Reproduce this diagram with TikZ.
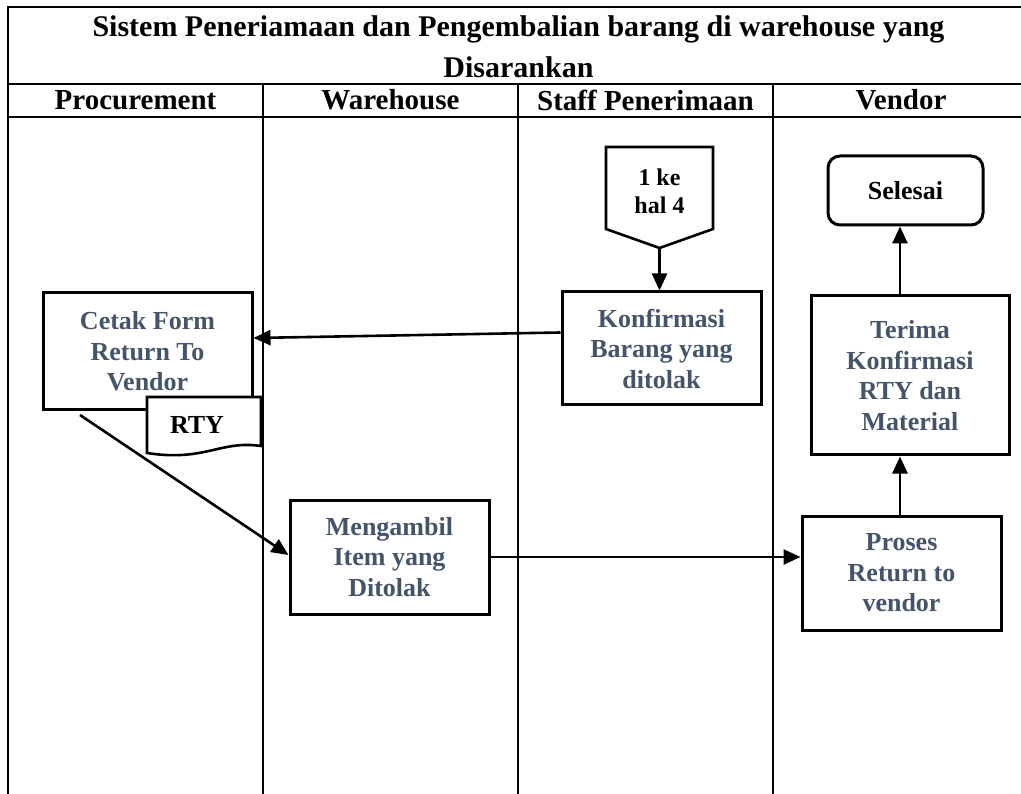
\documentclass[tikz,border=0pt]{standalone}
\usepackage{fontspec}
\setmainfont{Liberation Serif}
\usetikzlibrary{arrows.meta}
\definecolor{boxtext}{RGB}{68,84,106}
\begin{document}
\begin{tikzpicture}[x=1pt,y=-1pt,
  grid/.style={line width=2pt},
  procbox/.style={draw,line width=3pt,fill=white,inner sep=0pt,align=center,
    text=boxtext,font=\bfseries\fontsize{26}{30.5}\selectfont},
  plain/.style={align=center,font=\bfseries\fontsize{26}{30}\selectfont},
  head/.style={align=center,font=\bfseries\fontsize{29}{34}\selectfont},
  arr/.style={line width=2.6pt,-{Triangle[length=17pt,width=15pt]}},
  line/.style={line width=2.6pt}]
\useasboundingbox (0,0) rectangle (1021,794);
\fill[white] (0,0) rectangle (1021,794);

% swimlane table
\draw[grid] (8,794) -- (8,7) -- (1030,7);
\draw[grid] (8,84) -- (1030,84);
\draw[grid] (8,117) -- (1030,117);
\foreach \x in {263,518,773} \draw[grid] (\x,84) -- (\x,794);

\node[head,font=\bfseries\fontsize{30}{41}\selectfont] (title) at (518.5,47)
  {Sistem Peneriamaan dan Pengembalian barang di warehouse yang\\Disarankan};
\node[head] (hproc) at (135.5,100) {Procurement};
\node[head] (hware) at (390.5,100) {Warehouse};
\node[head] (hstaff) at (645.5,100) {Staff Penerimaan};
\node[head] (hvend) at (901,100) {Vendor};

% process boxes
\node[procbox,minimum width=209pt,minimum height=117pt] (cetak) at (147.5,351.5)
  {Cetak Form\\Return To\\Vendor};
\node[procbox,minimum width=199pt,minimum height=113pt] (konf) at (661.5,348.5)
  {Konfirmasi\\Barang yang\\ditolak};
\node[procbox,minimum width=199pt,minimum height=114pt] (ambil) at (389.5,557)
  {Mengambil\\Item yang\\Ditolak};
\node[procbox,minimum width=199pt,minimum height=114pt] (proses) at (901.5,573)
  {Proses\\Return to\\vendor};
\node[procbox,minimum width=198pt,minimum height=159pt] (terima) at (910,375.5)
  {Terima\\Konfirmasi\\RTY dan\\Material};
\node[draw,line width=3pt,rounded corners=12pt,minimum width=155pt,minimum height=69pt,
  plain] (selesai) at (905.5,190.5) {Selesai};

% RTY document
\draw[line width=2.6pt,fill=white] (147,397) -- (261,397) -- (261,446)
  .. controls (220,440) and (205,462) .. (147,453) -- cycle;
\node[plain] (rty) at (197,425) {RTY};

% off-page connector
\draw[line width=2.6pt] (606,147) -- (713,147) -- (713,229) -- (659.5,248) -- (606,229) -- cycle;
\node[plain,font=\bfseries\fontsize{24}{28}\selectfont] (offpage) at (659.5,191) {1 ke\\hal 4};
\coordinate (offtip) at (659.5,248);
\coordinate (cetakout) at (80,415);

% flow
\draw[arr] (offtip) -- (offtip |- konf.north);
\draw[arr] ([yshift=16pt]konf.west) -- ([yshift=13.5pt]cetak.east);
\draw[arr] (cetakout) -- ([yshift=2pt]ambil.west);
\draw[arr] (ambil.east) -- (ambil.east -| proses.west);
\draw[arr] ([xshift=-1.5pt]proses.north) -- ([xshift=-1.5pt]proses.north |- terima.south);
\draw[arr] ([xshift=-1.5pt]proses.north |- terima.north) -- ([xshift=-1.5pt]proses.north |- selesai.south);
\end{tikzpicture}
\end{document}
